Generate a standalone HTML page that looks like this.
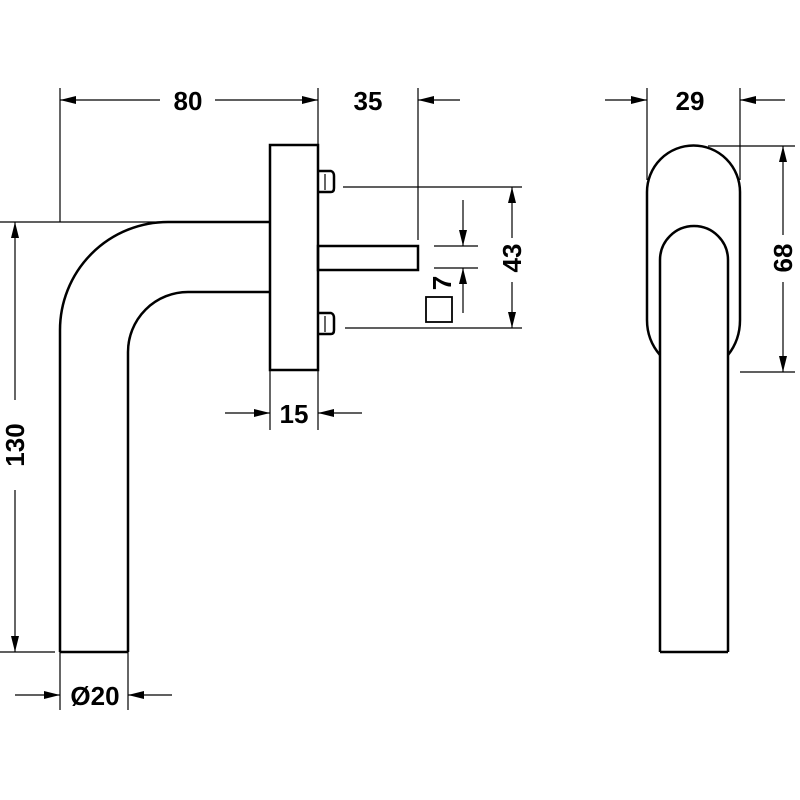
<!DOCTYPE html>
<html><head><style>body{margin:0;background:#fff}svg{display:block}</style></head><body>
<svg width="800" height="800" viewBox="0 0 800 800" xmlns="http://www.w3.org/2000/svg">
<defs>
<marker id="a" viewBox="0 0 16 8" refX="16" refY="4" markerWidth="16" markerHeight="8" markerUnits="userSpaceOnUse" orient="auto"><path d="M0,0L16,4L0,8z" fill="#000"/></marker>
</defs>
<g fill="none" stroke="#000" stroke-width="2.5">
<path d="M60,652V330A108,108 0 0 1 168,222H270"/>
<path d="M128,652V352A60,60 0 0 1 188,292H270"/>
<path d="M60,652H128"/>
<rect x="270" y="145" width="48" height="225"/>
<path d="M318,171H331Q334,172 334,176V188Q334,192 331,192H318"/>
<path d="M318,313H331Q334,314 334,318V330Q334,334 331,334H318"/>
<rect x="318" y="246" width="100" height="24"/>
<rect x="426" y="297" width="26" height="25" stroke-width="1.8"/>
<path d="M660,652V260A34,34 0 0 1 728,260V652"/>
<path d="M660,652H728"/>
<path d="M660,355Q647,340 647,320V192A46.5,46.5 0 0 1 740,192V320Q740,340 728,355"/>
</g>
<g fill="none" stroke="#000" stroke-width="1.2">
<path d="M325,174V190M325,316V332"/>
<path d="M60,88V222M318,88V145M418,88V240M0,222H160M0,652H55M343,187H522M345,328H522M434,246H478M434,268H478M270,370V430M318,370V430M60,652V710M128,652V710M647,88V180M740,88V180M708,146H795M740,372H795"/>
</g>
<g stroke="#000" stroke-width="1.2" marker-end="url(#a)">
<line x1="160" y1="100" x2="60" y2="100"/>
<line x1="215" y1="100" x2="318" y2="100"/>
<line x1="460" y1="100" x2="418" y2="100"/>
<line x1="512" y1="238" x2="512" y2="187"/>
<line x1="512" y1="282" x2="512" y2="328"/>
<line x1="463" y1="200" x2="463" y2="246"/>
<line x1="463" y1="313" x2="463" y2="268"/>
<line x1="15" y1="400" x2="15" y2="222"/>
<line x1="15" y1="490" x2="15" y2="652"/>
<line x1="225" y1="413" x2="270" y2="413"/>
<line x1="362" y1="413" x2="318" y2="413"/>
<line x1="15" y1="695" x2="60" y2="695"/>
<line x1="172" y1="695" x2="128" y2="695"/>
<line x1="605" y1="100" x2="647" y2="100"/>
<line x1="785" y1="100" x2="740" y2="100"/>
<line x1="783" y1="235" x2="783" y2="146"/>
<line x1="783" y1="282" x2="783" y2="372"/>
</g>
<g font-family="Liberation Sans, sans-serif" font-weight="bold" font-size="26" text-anchor="middle">
<text x="188" y="110">80</text>
<text x="368" y="110">35</text>
<text x="690" y="110">29</text>
<text x="294" y="423">15</text>
<text x="95" y="705">Ø20</text>
<text transform="translate(521,258) rotate(-90)">43</text>
<text transform="translate(451,283) rotate(-90)">7</text>
<text transform="translate(24,445) rotate(-90)">130</text>
<text transform="translate(792,258) rotate(-90)">68</text>
</g>
</svg>
</body></html>
